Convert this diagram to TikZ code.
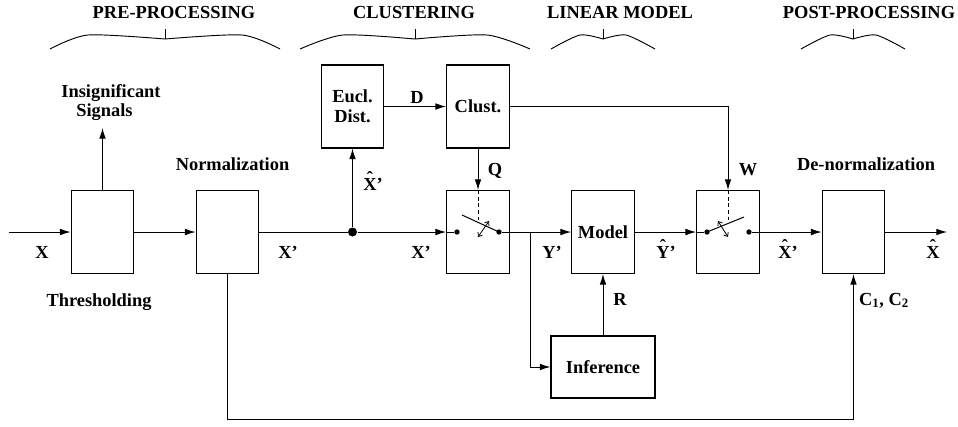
\documentclass[tikz,border=0pt]{standalone}
\usepackage{fontspec}
\setmainfont{Liberation Serif}
\usetikzlibrary{arrows.meta}

% letter with a circumflex set above it, followed by an optional suffix
\newsavebox\hatbox
\newcommand\hatlbl[2]{\sbox\hatbox{#1}\rlap{\hbox to \wd\hatbox{\hss\raisebox{0.28em}{\char"02C6}\hss}}\usebox\hatbox#2}

% stage brace: left end, centre, right end, horizontal rise
\newcommand\phasebrace[4]{%
  \draw[bracestroke] plot[smooth,tension=0.45] coordinates {(#1,49) (#1+#4,35) (#2,39)};
  \draw[bracestroke] plot[smooth,tension=0.45] coordinates {(#2,39) (#3-#4,35) (#3,49)};
  \draw[bracestroke] (#2,39) -- (#2,29);}

\begin{document}
\begin{tikzpicture}[x=0.75pt,y=-0.75pt,line width=0.75pt,
  lbl/.style={font=\fontsize{13.8}{15}\selectfont\bfseries, inner sep=0pt, anchor=base},
  blk/.style={draw, line width=0.8pt, minimum width=47pt, minimum height=62.25pt,
              inner sep=0pt, font=\fontsize{13.8}{15}\selectfont\bfseries, align=center},
  arr/.style={-{Latex[length=8pt,width=5pt]}},
  toggle/.style={{Straight Barb[length=2.5pt,width=4pt]}-{Straight Barb[length=2.5pt,width=4pt]}, line width=0.6pt},
  ctrl/.style={dash pattern=on 3pt off 2pt},
  bracestroke/.style={line width=0.7pt},
  junc/.style={circle, fill, inner sep=0pt, minimum size=6.75pt},
  contact/.style={circle, fill, inner sep=0pt, minimum size=4pt}]

\useasboundingbox (0,0) rectangle (958,426);

% stage headings and braces
\node[lbl] (hpre) at (174,18.5) {PRE-PROCESSING};
\node[lbl] (hclu) at (414,18.5) {CLUSTERING};
\node[lbl] (hlin) at (620,18.5) {LINEAR MODEL};
\node[lbl] (hpost) at (869,18.5) {POST-PROCESSING};
\phasebrace{50}{165}{280}{38}
\phasebrace{300}{415}{530}{43}
\phasebrace{551}{603}{655}{29}
\phasebrace{801}{853}{905}{29}

% blocks
\node[blk] (thr) at (102.5,232) {};
\node[blk] (nrm) at (227.5,232) {};
\node[blk] (eucl) at (352.5,106.5) {Eucl.\\Dist.};
\node[blk] (clu) at (478,106.5) {Clust.};
\node[blk] (sw1) at (478,232) {};
\node[blk] (mdl) at (603,232) {Model};
\node[blk] (sw2) at (728,232) {};
\node[blk] (den) at (853.5,232) {};
\node[blk, minimum width=78pt, minimum height=46.5pt] (inf) at (603,367) {Inference};

% junction and switch contacts
\node[junc] (br) at (352.5,232) {};
\node[contact] (s1a) at (457,232) {};
\node[contact] (s1b) at (499,232) {};
\node[contact] (s2a) at (707,232) {};
\node[contact] (s2b) at (749,232) {};

\coordinate (in) at (9,232);
\coordinate (sig) at (102.5,128);
\coordinate (out) at (947,232);
\coordinate (ytap) at (530,232);
\coordinate (s1q) at (478,220);
\coordinate (s2w) at (728,220);
\coordinate (s1k) at (462,215);
\coordinate (s2k) at (744,217);
\coordinate (s1v1) at (478,237);
\coordinate (s1v2) at (489,221);
\coordinate (s2v1) at (718,221);
\coordinate (s2v2) at (728,237);
\coordinate (fb) at (853.5,419);

% signal path
\draw[arr] (in) -- (thr);
\draw[arr] (thr) -- (sig);
\draw[arr] (thr) -- (nrm);
\draw (nrm) -- (br);
\draw[arr] (br) -- (eucl);
\draw[arr] (br) -- (sw1);
\draw (sw1.west) -- (s1a);
\draw[arr] (eucl) -- (clu);
\draw[arr] (clu) -- (sw1);
\draw[ctrl] (sw1.north) -- (s1q);
\draw (s1k) -- (s1b.center);
\draw[toggle] (s1v1) -- (s1v2);
\draw[arr] (s1b) -- (mdl);
\draw[arr] (ytap) |- (inf);
\draw[arr] (inf) -- (mdl);
\draw[arr] (mdl) -- (sw2);
\draw (sw2.west) -- (s2a);
\draw (s2a.center) -- (s2k);
\draw[toggle] (s2v1) -- (s2v2);
\draw[arr] (s2b) -- (den);
\draw[arr] (clu) -| (sw2);
\draw[ctrl] (sw2.north) -- (s2w);
\draw[arr] (den) -- (out);
\draw[arr] (nrm.south) |- (fb) -- (den.south);

% labels
\node[lbl] (tins) at (111,97) {Insignificant};
\node[lbl] (tsig) at (104.5,116) {Signals};
\node[lbl] (tnrm) at (232.5,170) {Normalization};
\node[lbl] (tthr) at (99,306) {Thresholding};
\node[lbl] (tx) at (42,258) {X};
\node[lbl] (txp1) at (288,258) {X'};
\node[lbl] (txp2) at (421,258) {X'};
\node[lbl] (txh1) at (373,190) {\hatlbl{X}{'}};
\node[lbl] (td) at (417,103) {D};
\node[lbl] (tq) at (495,175) {Q};
\node[lbl] (tw) at (748,175) {W};
\node[lbl] (typ) at (552,258) {Y'};
\node[lbl] (tyh) at (666,258) {\hatlbl{Y}{'}};
\node[lbl] (txh2) at (788,258) {\hatlbl{X}{'}};
\node[lbl] (txh3) at (933,258) {\hatlbl{X}{}};
\node[lbl] (tr) at (620,305) {R};
\node[lbl] (tden) at (866,170) {De-normalization};
\node[lbl] (tc) at (884,305) {C\textsubscript{1}, C\textsubscript{2}};
\end{tikzpicture}
\end{document}
